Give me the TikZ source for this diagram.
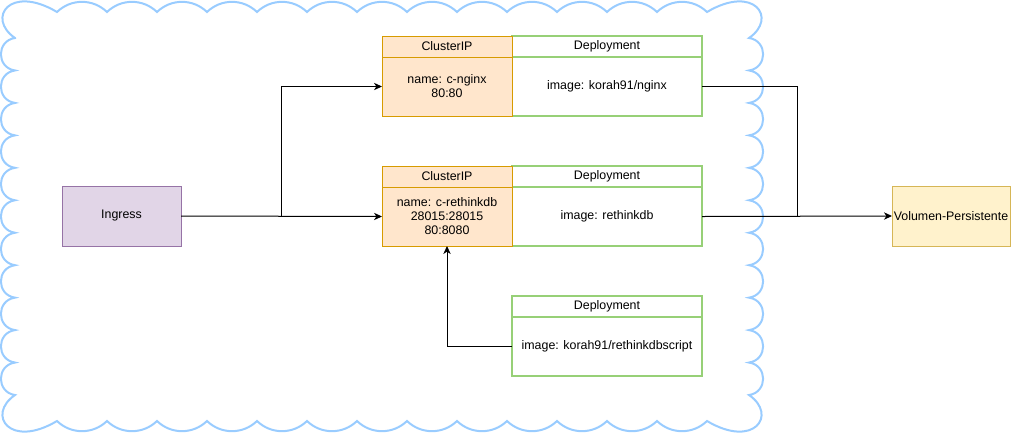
\documentclass[tikz,border=0pt]{standalone}
\usepackage{fontspec}
\setmainfont{Liberation Sans}
\usepackage{tikz}
\usetikzlibrary{arrows.meta, calc, positioning}
\definecolor{cloudblue}{HTML}{99CCFF}
\definecolor{ingfill}{HTML}{E1D5E7}
\definecolor{ingline}{HTML}{9673A6}
\definecolor{cipfill}{HTML}{FFE6CC}
\definecolor{cipline}{HTML}{D79B00}
\definecolor{depline}{HTML}{97D077}
\definecolor{volfill}{HTML}{FFF2CC}
\definecolor{volline}{HTML}{D6B656}
\tikzset{box labels/.style={font=\fontsize{9.3}{10.5}\selectfont}}
\tikzset{cloud line/.style={draw=cloudblue,line width=1.5pt,fill=white}}
\tikzset{cluster head/.style={draw=cipline,fill=cipfill,line width=0.75pt,minimum width=97.5pt,minimum height=15.75pt,inner sep=1pt,outer sep=0pt,box labels}}
\tikzset{cluster body/.style={cluster head,minimum height=44.25pt,align=center}}
\tikzset{deploy head/.style={draw=depline,fill=white,line width=1.5pt,minimum width=142.5pt,minimum height=15.75pt,inner sep=1pt,outer sep=0pt,box labels}}
\tikzset{deploy body/.style={deploy head,minimum height=44.25pt,align=center}}
\tikzset{ingress box/.style={draw=ingline,fill=ingfill,line width=0.75pt,minimum width=89.25pt,minimum height=45pt,outer sep=0pt,box labels}}
\tikzset{volume box/.style={draw=volline,fill=volfill,line width=0.75pt,minimum width=88.5pt,minimum height=45pt,inner sep=1pt,outer sep=0pt,box labels}}

\begin{document}
\begin{tikzpicture}[x=0.75pt,y=0.75pt,>={Stealth[length=6pt,width=5.5pt,inset=1.8pt]},line width=0.75pt]
    \useasboundingbox (0,0) rectangle (1012,-433);
    % cluster cloud
    \draw[cloud line] (15,-38) .. controls (-14,-18) and (10,16) .. (57,-12)
        \foreach \k in {1,...,13} { to[bend left=44] ({57+50*\k},-12) }
        .. controls (754,16) and (778,-18) .. (749,-38)
        \foreach \k in {1,...,11} { to[bend left=82,looseness=1.5] (749,{-38-32.4545*\k}) }
        .. controls (778,-415) and (754,-449) .. (707,-421)
        \foreach \k in {1,...,13} { to[bend left=44] ({707-50*\k},-421) }
        .. controls (10,-449) and (-14,-415) .. (15,-395)
        \foreach \k in {1,...,11} { to[bend left=82,looseness=1.5] (15,{-395+32.4545*\k}) }
        -- cycle;

    \node[ingress box](Ing) at (121.5,-216){Ingress};
    \node[volume box](Vol) at (951,-216){Volumen-Persistente};

    \node[deploy head](DepNginxH) at (607,-46.5){Deployment};
    \node[deploy body](DepNginx)[below=0pt of DepNginxH]{image: korah91/nginx};
    \node[cluster head](CipNginxH) at (447,-46.5){ClusterIP};
    \node[cluster body](CipNginx)[below=0pt of CipNginxH]{name: c-nginx\\80:80};

    \node[deploy head](DepDbH) at (607,-176.5){Deployment};
    \node[deploy body](DepDb)[below=0pt of DepDbH]{image: rethinkdb};
    \node[cluster head](CipDbH) at (447,-176.5){ClusterIP};
    \node[cluster body](CipDb)[below=0pt of CipDbH]{name: c-rethinkdb\\28015:28015\\80:8080};

    \node[deploy head](DepScriptH) at (607,-306.5){Deployment};
    \node[deploy body](DepScript)[below=0pt of DepScriptH]{image: korah91/rethinkdbscript};

    \coordinate (Split) at ($(Ing.east)!0.5!(CipDb.west)$);
    \coordinate (Join) at ($(DepDb.east)!0.5!(Vol.west)$);

    \draw[->] (Ing.east) -- (CipDb.west);
    \draw[->] (Split) |- (CipNginx.west);
    \draw[->] (DepDb.east) -- (Vol.west);
    \draw (DepNginx.east) -| (Join);
    \draw[->] (DepScript.west) -| (CipDb.south);
\end{tikzpicture}
\end{document}
